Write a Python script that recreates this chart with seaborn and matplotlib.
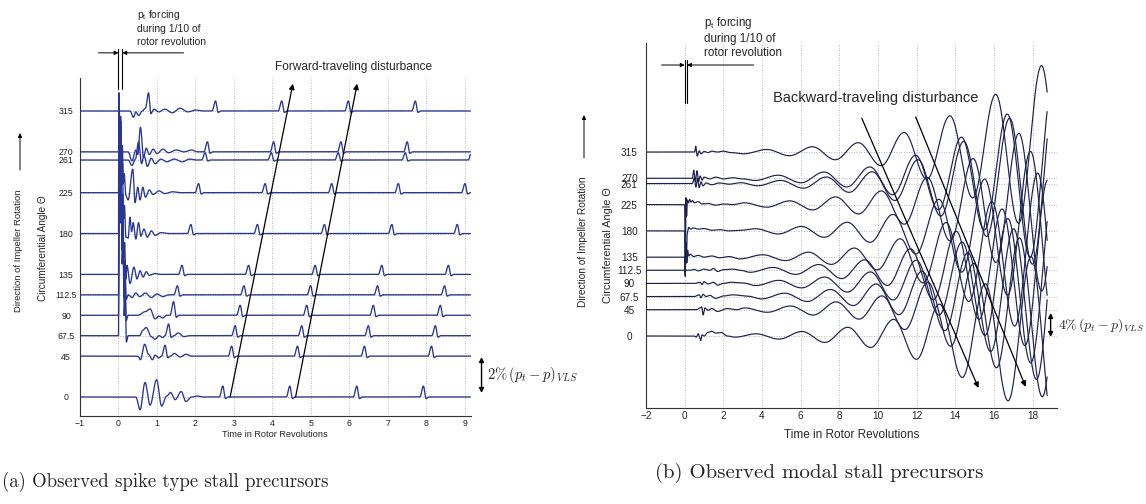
import numpy as np
import pandas as pd
import matplotlib
matplotlib.use("Agg")
import matplotlib.pyplot as plt
import seaborn as sns

sns.set_style("white")
plt.rcParams['font.family'] = ['Liberation Sans', 'DejaVu Sans']

# ---------------------------------------------------------------------------
# Panel (a): spike-type stall precursors
# ---------------------------------------------------------------------------
a_angles = [0, 45, 67.5, 90, 112.5, 135, 180, 225, 261, 270, 315]
a_angle_labels = ["0", "45", "67.5", "90", "112.5", "135", "180", "225", "261", "270", "315"]
a_xticks = [-1, 0, 1, 2, 3, 4, 5, 6, 7, 8, 9]

# response right after the forcing, (revolution, deviation) pairs
a_transient_0 = [(0.45, 0), (0.56, -14), (0.69, 16), (0.82, -9), (0.99, 19), (1.12, -10), (1.25, 1),
                 (1.35, 5), (1.47, -3), (1.63, 6), (1.75, -5), (1.9, 0), (2.05, 1), (2.2, 0)]
a_transient_45 = [(0.5, 0), (0.57, -4), (0.68, 13), (0.78, 2), (0.88, -4), (0.95, 1), (1.05, -2),
                  (1.45, 3), (1.6, -1), (1.75, 2), (1.9, 0)]
a_transient_67 = [(0.0, 0), (0.02, 225), (0.045, 124), (0.07, 180), (0.095, 79), (0.12, 112), (0.145, 22),
                  (0.175, 45), (0.205, -7), (0.25, 0), (0.55, 0), (0.63, 6), (0.72, 9), (0.85, -1),
                  (0.95, -4), (1.05, 0), (1.15, -2), (1.55, 3), (1.7, -1), (1.85, 0)]
a_transient_90 = [(0.0, 0), (0.02, 205), (0.045, 113), (0.065, 164), (0.09, 72), (0.115, 103), (0.14, 20),
                  (0.17, 41), (0.2, -6), (0.25, 0), (0.5, 0), (0.7, 4), (0.82, 7), (0.95, -4), (1.05, -1),
                  (1.15, -3), (1.25, 0)]
a_transient_112 = [(0.0, 0), (0.02, 190), (0.04, 105), (0.065, 150), (0.09, 66), (0.11, 95), (0.14, 19),
                   (0.165, 38), (0.2, -5), (0.25, 0), (0.35, -3), (0.45, 2), (0.55, -2), (0.7, 2),
                   (0.85, -3), (1.0, 1), (1.15, -2), (1.3, 0)]
a_transient_135 = [(0.0, 0), (0.015, 175), (0.04, 96), (0.06, 140), (0.085, 61), (0.11, 88), (0.135, 17),
                   (0.16, 35), (0.19, -5), (0.22, 10), (0.3, -10), (0.4, 8), (0.48, -5), (0.56, 4),
                   (0.64, -3), (0.72, 3), (0.8, -1), (0.95, 1), (1.1, 0)]
a_transient_180 = [(0.0, 0), (0.012, 155), (0.035, 85), (0.06, 124), (0.085, 54), (0.105, 78), (0.13, 16),
                   (0.155, 31), (0.19, -4), (0.25, -5), (0.3, 18), (0.34, 2), (0.38, 12), (0.45, -6),
                   (0.52, 12), (0.58, -3), (0.66, 5), (0.75, -4), (0.85, 3), (0.95, -2), (1.1, 1), (1.3, 0)]
a_transient_225 = [(0.0, 0), (0.015, 105), (0.035, 58), (0.055, 84), (0.08, 37), (0.1, 52), (0.125, 10),
                   (0.15, 21), (0.19, -3), (0.25, -8), (0.37, 26), (0.43, -11), (0.5, 6), (0.56, -8),
                   (0.63, 6), (0.7, -5), (0.8, 3), (0.9, -2), (1.05, 2), (1.2, -1), (1.4, 1), (1.6, 0)]
a_transient_261 = [(0.25, 0), (0.35, -6), (0.44, 1), (0.52, 20), (0.6, -4), (0.66, 5), (0.75, -7),
                   (0.85, 2), (0.95, -4), (1.1, 1), (1.25, -2), (1.45, 1), (1.65, -2), (1.85, 1), (2.0, 0)]
a_transient_270 = [(0.25, 0), (0.35, -10), (0.45, 2), (0.5, -3), (0.57, 27), (0.65, -6), (0.72, 4),
                   (0.8, -3), (0.9, 3), (1.0, -2), (1.15, 3), (1.3, -1), (1.5, 2), (1.7, 0), (1.9, 2), (2.05, 0)]
a_transient_315 = [(0.3, 0), (0.39, -7), (0.45, -1), (0.52, -5), (0.62, 0), (0.7, 3), (0.78, 20),
                   (0.84, -3), (0.92, 2), (1.05, -1), (1.2, 2), (1.4, -2), (1.6, 3), (1.8, -1), (2.0, 1), (2.2, 0)]

# rotating spikes, (revolution of the peak, peak height)
a_spikes_0 = [(2.71, 12), (4.45, 12), (6.19, 12), (7.92, 12)]
a_spikes_45 = [(1.21, 12), (2.94, 11), (4.65, 11), (6.39, 11), (8.13, 11)]
a_spikes_67 = [(1.3, 13), (3.03, 11), (4.76, 11), (6.49, 11), (8.23, 11)]
a_spikes_90 = [(1.43, 15), (3.16, 11), (4.89, 11), (6.62, 11), (8.36, 11)]
a_spikes_112 = [(1.53, 10), (3.26, 10), (4.99, 10), (6.73, 10), (8.47, 10)]
a_spikes_135 = [(1.65, 10), (3.38, 10), (5.11, 10), (6.84, 10), (8.57, 10)]
a_spikes_180 = [(1.88, 10), (3.61, 10), (5.35, 10), (7.1, 10), (8.8, 10)]
a_spikes_225 = [(2.08, 10), (3.81, 10), (5.54, 10), (7.27, 10), (9.0, 10)]
a_spikes_261 = [(2.25, 8), (3.97, 8), (5.71, 8), (7.45, 8), (9.17, 8)]
a_spikes_270 = [(2.31, 11), (4.03, 11), (5.78, 11), (7.5, 11)]
a_spikes_315 = [(2.52, 11), (4.24, 11), (5.97, 11), (7.71, 11)]

# ---------------------------------------------------------------------------
# Panel (b): modal stall precursors
# ---------------------------------------------------------------------------
b_angles = [0, 45, 67.5, 90, 112.5, 135, 180, 225, 261, 270, 315]
b_angle_labels = ["0", "45", "67.5", "90", "112.5", "135", "180", "225", "261", "270", "315"]
b_xticks = [-2, 0, 2, 4, 6, 8, 10, 12, 14, 16, 18]

b_transient_0 = [(0.5, 0), (0.6, -2), (0.7, 4), (0.78, -3), (0.83, -8), (0.9, 2), (1.0, 0), (1.2, 6),
                 (1.4, 8), (1.6, 5), (1.9, 6), (2.2, 0), (2.6, -2)]
b_transient_45 = [(0.6, 0), (0.8, 3), (0.88, 5), (0.95, -9), (1.05, 3), (1.2, -1), (1.4, 2), (1.7, -3),
                  (2.2, 2), (2.7, 0)]
b_transient_67 = [(0.5, 0), (0.75, 3), (0.85, -2), (0.95, 4), (1.1, 0), (1.3, 2), (1.6, -3), (2.0, 1),
                  (2.5, 3), (3.2, 1)]
b_transient_90 = [(0.5, 0), (0.8, 2), (0.9, -2), (1.0, 3), (1.2, -1), (1.5, 2), (1.7, -3), (2.0, 0),
                  (2.4, 2), (3.0, 1)]
b_transient_112 = [(0.3, 0), (0.5, 1.5), (0.7, -1), (1.0, 2), (1.3, 0), (1.5, 3), (1.7, -2), (2.0, 1),
                   (2.5, 2), (2.9, 0)]
b_transient_135 = [(0.0, 0), (0.03, -33), (0.07, 25), (0.11, -10), (0.15, 12), (0.2, 2), (0.3, 5),
                   (0.45, 1), (0.7, 3), (1.0, 0), (1.4, 2), (1.8, -1), (2.3, 1)]
b_transient_180 = [(0.0, 0), (0.03, -75), (0.06, -20), (0.09, -45), (0.13, -5), (0.2, 6), (0.3, 3),
                   (0.45, 5), (0.7, 3), (1.0, 4), (1.4, 1), (1.8, 2), (2.3, 0), (2.9, 1)]
b_transient_225 = [(0.0, 0), (0.03, -115), (0.07, 12), (0.1, -20), (0.14, 8), (0.2, 3), (0.26, 9),
                   (0.32, 4), (0.4, 7), (0.5, 3), (0.7, 5), (0.9, 1), (1.2, 2), (1.6, -1), (2.0, 1), (2.5, 0)]
b_transient_261 = [(0.4, 0), (0.5, 10), (0.58, -6), (0.66, 9), (0.75, -7), (0.85, 3), (0.95, -4),
                   (1.1, 1), (1.4, -2), (1.8, 1), (2.3, -1), (2.9, 1.5)]
b_transient_270 = [(0.4, 0), (0.47, 14), (0.55, -5), (0.64, 13), (0.72, -6), (0.8, 4), (0.9, -3),
                   (1.0, 2), (1.3, -1), (1.6, 2), (2.0, -1), (2.5, 1), (3.0, -1)]
b_transient_315 = [(0.45, 0), (0.52, 0), (0.57, 10), (0.65, -7), (0.75, 2), (0.85, -3), (1.0, 1),
                   (1.2, -1), (1.4, 1.5), (1.7, 0), (2.0, 1.5), (2.4, -1)]

# growing modal wave: successive extrema, (revolution, deviation)
b_wave_0 = [(3.70, 3.7), (4.88, -5.3), (6.07, 7.7), (7.25, -11), (8.44, 14.9), (9.62, -19.7),
            (10.81, 28.5), (11.99, -39.9), (13.18, 54.5), (14.36, -71), (15.55, 89.4), (16.73, -111),
            (17.92, 136), (19.10, -162)]
b_wave_45 = [(3.10, 3.1), (4.28, -4.4), (5.47, 6.4), (6.65, -9.1), (7.84, 13.4), (9.02, -16.1),
             (10.21, 23.7), (11.39, -33.9), (12.58, 47), (13.76, -62.6), (14.95, 79.3), (16.13, -99.5),
             (17.32, 123), (18.50, -149), (19.69, 174)]
b_wave_67 = [(3.98, -4.0), (5.17, 5.8), (6.35, -8.4), (7.54, 12.2), (8.72, -15.4), (9.91, 21.5),
             (11.09, -30.9), (12.28, 43.4), (13.46, -58.4), (14.65, 75.1), (15.83, -94.1), (17.02, 116),
             (18.20, -142), (19.39, 168)]
b_wave_90 = [(3.68, -3.7), (4.87, 5.3), (6.05, -7.6), (7.24, 11.0), (8.42, -14.8), (9.61, 19.7),
             (10.79, -28.3), (11.98, 39.8), (13.16, -54.2), (14.35, 70.9), (15.53, -89), (16.72, 111),
             (17.90, -136), (19.09, 162)]
b_wave_112 = [(3.38, -3.4), (4.57, 4.9), (5.75, -7.0), (6.94, 9.9), (8.12, -14.2), (9.31, 17.9),
              (10.49, -25.9), (11.68, 36.8), (12.86, -50.3), (14.05, 66.7), (15.23, -83.9), (16.42, 105),
              (17.60, -129), (18.79, 155)]
b_wave_135 = [(2.85, -3), (4.04, 4.1), (5.22, -5.9), (6.41, 8.5), (7.59, -12.4), (8.78, 15.6),
              (9.96, -21.8), (11.15, 31.5), (12.33, -44), (13.52, 59.3), (14.70, -75.8), (15.89, 95.1),
              (17.07, -118), (18.26, 144), (19.44, -169)]
b_wave_180 = [(3.67, 3.7), (4.85, -5.3), (6.04, 7.6), (7.22, -10.9), (8.41, 14.8), (9.59, -19.5),
              (10.78, 28.2), (11.96, -39.6), (13.15, 54.1), (14.33, -70.6), (15.52, 88.8), (16.70, -110),
              (17.89, 136), (19.07, -161)]
b_wave_225 = [(3.07, 3.1), (4.25, -4.4), (5.44, 6.4), (6.62, -9.1), (7.81, 13.2), (8.99, -16),
              (10.18, 23.4), (11.36, -33.6), (12.55, 46.6), (13.73, -62.2), (14.92, 78.9), (16.10, -98.9),
              (17.29, 122), (18.47, -148), (19.66, 173)]
b_wave_261 = [(3.77, -3.8), (4.96, 5.4), (6.14, -7.9), (7.33, 11.3), (8.51, -15), (9.70, 20.2),
              (10.88, -29), (12.07, 40.8), (13.25, -55.5), (14.44, 72.2), (15.62, -90.5), (16.81, 112),
              (17.99, -138), (19.18, 164)]
b_wave_270 = [(3.65, -3.7), (4.84, 5.3), (6.02, -7.6), (7.21, 10.8), (8.39, -14.8), (9.58, 19.5),
              (10.76, -28.1), (11.95, 39.5), (13.13, -53.8), (14.32, 70.5), (15.50, -88.5), (16.69, 110),
              (17.87, -135), (19.06, 161)]
b_wave_315 = [(3.05, -3), (4.24, 4.4), (5.42, -6.3), (6.61, 9.0), (7.79, -13.2), (8.98, 16),
              (10.16, -23.3), (11.35, 33.5), (12.53, -46.4), (13.72, 62), (14.90, -78.6), (16.09, 98.7),
              (17.27, -122), (18.46, 148), (19.64, -173)]

A_COLOR = "#2a3694"
B_COLOR = "#1c2150"
GRID = "#a0a0a0"
W, H = 1146, 504


def cosine_path(knots, t):
    """Smooth path through knots, each knot being a local extremum or plateau."""
    knots = sorted(knots)
    kt = np.array([k[0] for k in knots], dtype=float)
    kv = np.array([k[1] for k in knots], dtype=float)
    idx = np.clip(np.searchsorted(kt, t, side="right") - 1, 0, len(kt) - 2)
    t0, t1 = kt[idx], kt[idx + 1]
    s = np.clip((t - t0) / (t1 - t0), 0.0, 1.0)
    w = (1.0 - np.cos(np.pi * s)) / 2.0
    return kv[idx] + (kv[idx + 1] - kv[idx]) * w


def spike_knots(spikes):
    out = []
    for ts, h in spikes:
        out += [(ts - 0.09, 0.0), (ts, h), (ts + 0.07, -0.15 * h), (ts + 0.14, 0.0)]
    return out


def traces_frame(angles, knot_sets, t_start, t_end, n):
    t = np.linspace(t_start, t_end, n)
    frames = []
    for ang, knots in zip(angles, knot_sets):
        full = [(t_start - 1.0, 0.0), (t_start, 0.0)] + list(knots) + [(40.0, 0.0)]
        frames.append(pd.DataFrame({"t": t, "y": ang + cosine_path(full, t), "channel": str(ang)}))
    return pd.concat(frames, ignore_index=True)


a_sets = [
    a_transient_0 + spike_knots(a_spikes_0),
    a_transient_45 + spike_knots(a_spikes_45),
    a_transient_67 + spike_knots(a_spikes_67),
    a_transient_90 + spike_knots(a_spikes_90),
    a_transient_112 + spike_knots(a_spikes_112),
    a_transient_135 + spike_knots(a_spikes_135),
    a_transient_180 + spike_knots(a_spikes_180),
    a_transient_225 + spike_knots(a_spikes_225),
    a_transient_261 + spike_knots(a_spikes_261),
    a_transient_270 + spike_knots(a_spikes_270),
    a_transient_315 + spike_knots(a_spikes_315),
]
b_sets = [
    b_transient_0 + b_wave_0, b_transient_45 + b_wave_45, b_transient_67 + b_wave_67,
    b_transient_90 + b_wave_90, b_transient_112 + b_wave_112, b_transient_135 + b_wave_135,
    b_transient_180 + b_wave_180, b_transient_225 + b_wave_225, b_transient_261 + b_wave_261,
    b_transient_270 + b_wave_270, b_transient_315 + b_wave_315,
]

df_a = traces_frame(a_angles, a_sets, -1.0, 9.14, 5000)
df_b = traces_frame(b_angles, b_sets, -2.0, 18.75, 5000)

fig = plt.figure(figsize=(W / 100, H / 100), dpi=100)


def box(x0, y0, x1, y1):
    return [x0 / W, 1 - y1 / H, (x1 - x0) / W, (y1 - y0) / H]


ax_a = fig.add_axes(box(80, 78, 470.6, 415.5))
ax_b = fig.add_axes(box(646, 43, 1057, 408))

sns.lineplot(data=df_a, x="t", y="y", units="channel", estimator=None, sort=False,
             color=A_COLOR, linewidth=0.95, ax=ax_a, legend=False)
sns.lineplot(data=df_b, x="t", y="y", units="channel", estimator=None, sort=False,
             color=B_COLOR, linewidth=0.85, ax=ax_b, legend=False)

ax_a.set_xlim(-1, 9.146)
ax_a.set_ylim(-20.4, 351.3)
ax_b.set_xlim(-2, 19.26)
ax_b.set_ylim(-123.3, 501.7)

for ax, xt, yt, yl, fs, ypad in [(ax_a, a_xticks, a_angles, a_angle_labels, 6.3, 10),
                                  (ax_b, b_xticks, b_angles, b_angle_labels, 7.2, 12)]:
    ax.set_xticks(xt)
    ax.set_yticks(yt)
    ax.set_yticklabels(yl)
    ax.tick_params(axis="both", direction="in", length=3, width=0.6, labelsize=fs, colors="#222222")
    ax.tick_params(axis="y", pad=ypad, length=0)
    ax.tick_params(axis="x", pad=2.5)
    for lab in ax.get_yticklabels():
        lab.set_horizontalalignment("center")
    for side in ("top", "right"):
        ax.spines[side].set_visible(False)
    for side in ("left", "bottom"):
        ax.spines[side].set_color("#333333")
        ax.spines[side].set_linewidth(0.8)
    ax.grid(True, linestyle=(0, (1, 2)), linewidth=0.6, color=GRID)
    ax.set_axisbelow(True)
    ax.set_ylabel("")
    ax.patch.set_alpha(0)

ax_a.set_xlabel("Time in Rotor Revolutions", fontsize=6.6, labelpad=1.5)
ax_b.set_xlabel("Time in Rotor Revolutions", fontsize=8.5, labelpad=5.5)

arrow_kw = dict(arrowstyle="-|>", color="black", lw=0.9, mutation_scale=8, shrinkA=0, shrinkB=0)
small_kw = dict(arrowstyle="-|>", color="black", lw=0.7, mutation_scale=6, shrinkA=0, shrinkB=0)
both_kw = dict(arrowstyle="<|-|>", color="black", lw=1.0, mutation_scale=7, shrinkA=0, shrinkB=0)

# forward-traveling disturbance (a)
ax_a.annotate("", xy=(4.53, 345), xytext=(2.9, 0), arrowprops=arrow_kw, annotation_clip=False)
ax_a.annotate("", xy=(6.2, 345), xytext=(4.6, 0), arrowprops=arrow_kw, annotation_clip=False)
ax_a.text(6.1, 363, "Forward-traveling disturbance", fontsize=8.6, ha="center", va="center", clip_on=False)

# forcing window (a)
for tx in (0.0, 0.1):
    ax_a.plot([tx, tx], [339, 383], color="black", lw=0.8, clip_on=False)
ax_a.annotate("", xy=(0.0, 379), xytext=(-0.52, 379), arrowprops=small_kw, annotation_clip=False)
ax_a.annotate("", xy=(0.1, 379), xytext=(1.69, 379), arrowprops=small_kw, annotation_clip=False)
ax_a.text(0.47, 407, "p$_\\mathregular{t}$ forcing\nduring 1/10 of\nrotor revolution",
          fontsize=7.5, ha="left", va="center", linespacing=1.3, clip_on=False)

# amplitude scale (a)
ax_a.annotate("", xy=(9.43, 44), xytext=(9.43, 4.4), arrowprops=both_kw, annotation_clip=False)
ax_a.text(9.56, 24, "2%$\\,(p_t-p)_{VLS}$", fontsize=10.5, ha="left", va="center",
          family="cmr10", math_fontfamily="cm", clip_on=False)

# backward-traveling disturbance (b)
ax_b.annotate("", xy=(15.2, -89), xytext=(9.16, 373), arrowprops=arrow_kw, annotation_clip=False)
ax_b.annotate("", xy=(17.64, -87), xytext=(11.95, 375), arrowprops=arrow_kw, annotation_clip=False)
ax_b.text(9.88, 407.5, "Backward-traveling disturbance", fontsize=10.5, ha="center", va="center",
          clip_on=False)

# forcing window (b)
for tx in (0.0, 0.12):
    ax_b.plot([tx, tx], [399, 473], color="black", lw=0.8, clip_on=False)
ax_b.annotate("", xy=(0.0, 464), xytext=(-1.19, 464), arrowprops=small_kw, annotation_clip=False)
ax_b.annotate("", xy=(0.12, 464), xytext=(3.57, 464), arrowprops=small_kw, annotation_clip=False)
ax_b.text(0.98, 512, "p$_\\mathregular{t}$ forcing\nduring 1/10 of\nrotor revolution",
          fontsize=8.4, ha="left", va="center", linespacing=1.25, clip_on=False)

# amplitude scale (b)
ax_b.annotate("", xy=(18.93, 39.4), xytext=(18.93, -1.7), arrowprops=both_kw, annotation_clip=False)
ax_b.text(19.3, 18.8, "4%$\\,(p_t-p)_{VLS}$", fontsize=10, ha="left", va="center",
          family="cmr10", math_fontfamily="cm", clip_on=False)

# axis titles on the left of each panel
fig.text(43 / W, 1 - 248 / H, "Circumferential Angle \u0398", rotation=90, ha="center", va="center",
         fontsize=7.2)
fig.text(19 / W, 1 - 251 / H, "Direction of Impeller Rotation", rotation=90, ha="center", va="center",
         fontsize=6.8)
fig.text(608 / W, 1 - 245 / H, "Circumferential Angle \u0398", rotation=90, ha="center", va="center",
         fontsize=7.8)
fig.text(583 / W, 1 - 242 / H, "Direction of Impeller Rotation", rotation=90, ha="center", va="center",
         fontsize=7.3)
fig.add_artist(matplotlib.patches.FancyArrowPatch((20 / W, 1 - 170 / H), (20 / W, 1 - 133 / H),
                                                  transform=fig.transFigure, **small_kw))
fig.add_artist(matplotlib.patches.FancyArrowPatch((584 / W, 1 - 158 / H), (584 / W, 1 - 115 / H),
                                                  transform=fig.transFigure, **small_kw))

# sub-figure captions
fig.text(165 / W, 1 - 482 / H, "(a) Observed spike type stall precursors", family="cmr10",
         fontsize=13.5, ha="center", va="center")
fig.text(819 / W, 1 - 473 / H, "(b) Observed modal stall precursors", family="cmr10",
         fontsize=15, ha="center", va="center")

fig.savefig("out.png", dpi=100)
